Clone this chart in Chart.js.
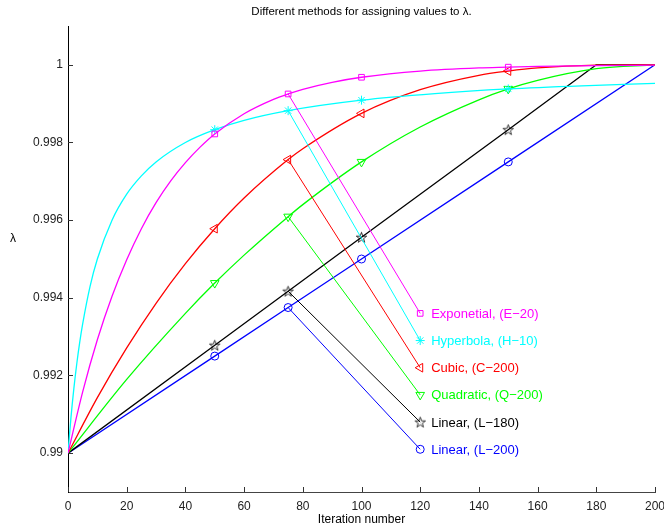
<!DOCTYPE html>
<html><head><meta charset="utf-8">
<script src="https://cdn.jsdelivr.net/npm/chart.js@4/dist/chart.umd.min.js"></script>
<style>html,body{margin:0;padding:0;background:#fff}#wrap{width:664px;height:532px}</style>
</head><body><div id="wrap"><canvas id="c" width="664" height="532"></canvas></div>
<script>
// Text
const chartTitle = 'Different methods for assigning values to λ.';
const xTitle = 'Iteration number';
const yTitle = 'λ';

// Axis ticks
const xTicks = [0, 20, 40, 60, 80, 100, 120, 140, 160, 180, 200];
const yTicks = [0.99, 0.992, 0.994, 0.996, 0.998, 1];
const yTickLabels = ['0.99', '0.992', '0.994', '0.996', '0.998', '1'];

// Exponetial, (E-20)
const expIter   = [0, 5, 10, 15, 20, 25, 30, 35, 40, 45, 50, 60, 70, 75, 80, 90, 100, 120, 140, 150, 160, 180, 200];
const expLambda = [0.99, 0.99158, 0.99292, 0.99404, 0.99498, 0.99578, 0.99645, 0.99701, 0.99748, 0.99788, 0.99822,
                   0.99874, 0.99911, 0.99925, 0.99937, 0.99955, 0.99968, 0.99984, 0.99992, 0.99994, 0.99996, 0.99998, 0.99999];

// Hyperbola, (H-10)
const hypIter   = [0, 1, 2, 3, 4, 5, 7.5, 10, 15, 20, 25, 30, 40, 50, 60, 75, 100, 125, 150, 175, 200];
const hypLambda = [0.99, 0.99091, 0.99167, 0.99231, 0.99286, 0.99333, 0.99429, 0.995, 0.996, 0.99667, 0.99714,
                   0.9975, 0.998, 0.99833, 0.99857, 0.99882, 0.99909, 0.99926, 0.99938, 0.99946, 0.99952];

// Cubic, (C-200)
const cubIter   = [0, 10, 20, 30, 40, 50, 60, 75, 80, 100, 120, 140, 150, 160, 180, 200];
const cubLambda = [0.99, 0.99143, 0.99271, 0.99386, 0.99488, 0.99578, 0.99657, 0.99756, 0.99784, 0.99875,
                   0.99936, 0.99973, 0.99984, 0.99992, 0.99999, 1];

// Quadratic, (Q-200)
const quaIter   = [0, 20, 40, 50, 60, 75, 80, 100, 120, 140, 150, 160, 180, 200];
const quaLambda = [0.99, 0.9919, 0.9936, 0.99438, 0.9951, 0.99609, 0.9964, 0.9975, 0.9984, 0.9991, 0.99938, 0.9996, 0.9999, 1];

// Linear, (L-180)
const l180Iter   = [0, 50, 75, 100, 150, 180, 200];
const l180Lambda = [0.99, 0.99278, 0.99417, 0.99556, 0.99833, 1, 1];

// Linear, (L-200)
const l200Iter   = [0, 50, 75, 100, 150, 200];
const l200Lambda = [0.99, 0.9925, 0.99375, 0.995, 0.9975, 1];

// Iterations carrying a marker, and the leader line span to each label
const markerIter = [50, 75, 100, 150];
const leaderFrom = 75;
const leaderTo = 120;
const seriesNames = ['Exponetial, (E\u221220)', 'Hyperbola, (H\u221210)', 'Cubic, (C\u2212200)',
                     'Quadratic, (Q\u2212200)', 'Linear, (L\u2212180)', 'Linear, (L\u2212200)'];
const labelLambda = [0.9936, 0.9929, 0.9922, 0.9915, 0.9908, 0.9901];

const FONT = "'Liberation Sans', Arial, Helvetica, sans-serif";

// outlined five-pointed star used as a point style
function pentagram(color, r) {
  const s = Math.ceil(r * 2 + 4);
  const c = document.createElement('canvas');
  c.width = c.height = s;
  const g = c.getContext('2d');
  g.strokeStyle = color; g.lineWidth = 0.8;
  g.beginPath();
  for (let k = 0; k < 10; k++) {
    const rr = k % 2 ? r * 0.4 : r;
    const a = -Math.PI / 2 + k * Math.PI / 5;
    const px = s / 2 + rr * Math.cos(a), py = s / 2 + rr * Math.sin(a) + 0.5;
    k ? g.lineTo(px, py) : g.moveTo(px, py);
  }
  g.closePath(); g.stroke();
  return c;
}

const series = [
  { iter: expIter,  lam: expLambda,  color: '#ff00ff', style: 'rect',     rot: 0,   smooth: true,  r: 4 },
  { iter: hypIter,  lam: hypLambda,  color: '#00ffff', style: 'star',     rot: 0,   smooth: true,  r: 4.5 },
  { iter: cubIter,  lam: cubLambda,  color: '#ff0000', style: 'triangle', rot: -90, smooth: true,  r: 5 },
  { iter: quaIter,  lam: quaLambda,  color: '#00ff00', style: 'triangle', rot: 180, smooth: true,  r: 5 },
  { iter: l180Iter, lam: l180Lambda, color: '#000000', style: pentagram('#000000', 5.5), rot: 0, smooth: false, r: 5 },
  { iter: l200Iter, lam: l200Lambda, color: '#0000ff', style: 'circle',   rot: 0,   smooth: false, r: 4 }
];

const datasets = [];
series.forEach((s, i) => {
  datasets.push({
    data: s.iter.map((t, k) => ({ x: t, y: s.lam[k] })),
    borderColor: s.color,
    borderWidth: 1.3,
    cubicInterpolationMode: s.smooth ? 'monotone' : 'default',
    tension: 0,
    pointStyle: s.style,
    pointRotation: s.rot,
    pointBorderColor: s.color,
    pointBackgroundColor: 'rgba(0,0,0,0)',
    pointBorderWidth: 1,
    pointRadius: ctx => (ctx.raw && markerIter.includes(ctx.raw.x)) ? s.r : 0,
    fill: false
  });
  // leader line from the curve at leaderFrom to the label position
  const yFrom = s.lam[s.iter.indexOf(leaderFrom)];
  datasets.push({
    data: [{ x: leaderFrom, y: yFrom }, { x: leaderTo, y: labelLambda[i] }],
    borderColor: s.color,
    borderWidth: 1,
    tension: 0,
    pointStyle: s.style,
    pointRotation: s.rot,
    pointBorderColor: s.color,
    pointBackgroundColor: 'rgba(0,0,0,0)',
    pointBorderWidth: 1,
    pointRadius: [0, s.r],
    fill: false,
    labelText: seriesNames[i]
  });
});

const decor = {
  id: 'decor',
  afterDraw(chart) {
    const { ctx, chartArea: a, scales: { x, y } } = chart;
    ctx.save();
    // inward tick marks
    ctx.lineWidth = 1;
    ctx.strokeStyle = '#333';
    ctx.beginPath();
    yTicks.forEach(v => { const py = Math.round(y.getPixelForValue(v)) + 0.5; ctx.moveTo(a.left, py); ctx.lineTo(a.left + 5, py); });
    xTicks.forEach(v => { const px = Math.round(x.getPixelForValue(v)) + 0.5; ctx.moveTo(px, a.bottom); ctx.lineTo(px, a.bottom - 5); });
    ctx.stroke();
    // series labels next to the leader line ends
    ctx.font = '13px ' + FONT;
    ctx.textAlign = 'left';
    ctx.textBaseline = 'middle';
    chart.data.datasets.forEach(d => {
      if (!d.labelText) return;
      const p = d.data[1];
      ctx.fillStyle = d.borderColor;
      ctx.fillText(d.labelText, x.getPixelForValue(p.x) + 11, y.getPixelForValue(p.y) + 1);
    });
    // titles
    ctx.fillStyle = '#000';
    ctx.textAlign = 'center';
    ctx.font = '11.5px ' + FONT;
    ctx.fillText(chartTitle, (a.left + a.right) / 2, 12);
    ctx.font = '12px ' + FONT;
    ctx.fillText(xTitle, (a.left + a.right) / 2, 520);
    ctx.fillText(yTitle, 13, 239);
    ctx.restore();
  }
};

new Chart(document.getElementById('c'), {
  type: 'line',
  data: { datasets },
  options: {
    responsive: false,
    devicePixelRatio: 1,
    animation: false,
    layout: { padding: { left: 0, top: 26, right: 9, bottom: 0 } },
    plugins: { legend: { display: false }, tooltip: { enabled: false } },
    elements: { line: { borderJoinStyle: 'round' } },
    scales: {
      x: {
        type: 'linear', min: 0, max: 200,
        afterBuildTicks: s => { s.ticks = xTicks.map(v => ({ value: v })); },
        afterFit: s => { s.height = 40; s.paddingLeft = 0; s.paddingRight = 0; },
        grid: { display: true, drawOnChartArea: false, drawTicks: false },
        border: { display: true, color: '#444', width: 1 },
        ticks: { font: { family: FONT, size: 12 }, color: '#222', padding: 7, maxRotation: 0, autoSkip: false }
      },
      y: {
        type: 'linear', min: 0.989, max: 1.001,
        afterBuildTicks: s => { s.ticks = yTicks.map(v => ({ value: v })); },
        afterFit: s => { s.width = 68; s.paddingTop = 0; s.paddingBottom = 0; },
        grid: { display: true, drawOnChartArea: false, drawTicks: false },
        border: { display: true, color: '#000', width: 1 },
        ticks: {
          font: { family: FONT, size: 12 }, color: '#222', padding: 5,
          callback: v => { const k = yTicks.findIndex(t => Math.abs(t - v) < 1e-9); return k >= 0 ? yTickLabels[k] : ''; }
        }
      }
    }
  },
  plugins: [decor]
});
</script></body></html>
